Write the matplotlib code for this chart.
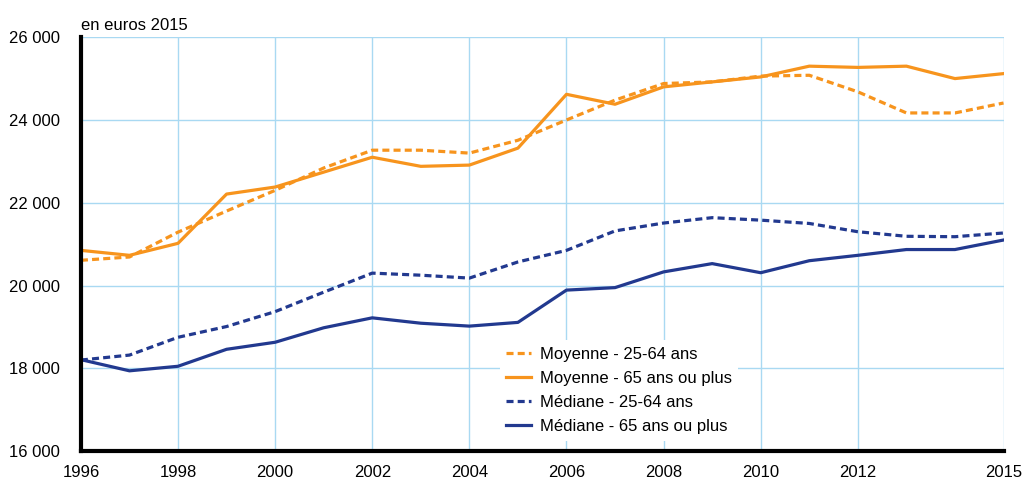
import numpy as np
import matplotlib.pyplot as plt

plt.rcParams['font.family'] = ['Liberation Sans Narrow', 'Liberation Sans', 'DejaVu Sans']

years = list(range(1996, 2016))

moy_25_64 = [20610, 20690, 21290, 21800, 22300, 22840, 23270, 23270, 23200, 23510,
             24000, 24480, 24880, 24920, 25060, 25080, 24680, 24170, 24170, 24410]
moy_65 = [20850, 20730, 21020, 22210, 22380, 22740, 23100, 22880, 22910, 23320,
          24620, 24380, 24800, 24920, 25040, 25300, 25270, 25300, 25000, 25120]
med_25_64 = [18200, 18320, 18750, 19010, 19370, 19840, 20300, 20250, 20180, 20570,
             20850, 21320, 21510, 21640, 21580, 21500, 21300, 21190, 21180, 21270]
med_65 = [18210, 17940, 18050, 18460, 18630, 18980, 19220, 19090, 19020, 19110,
          19890, 19950, 20330, 20530, 20310, 20600, 20730, 20870, 20870, 21100]

xticks = [1996, 1998, 2000, 2002, 2004, 2006, 2008, 2010, 2012, 2015]
yticks = [16000, 18000, 20000, 22000, 24000, 26000]

orange = '#F7941D'
navy = '#22398F'
grid = '#A9D9F2'

fig, ax = plt.subplots(figsize=(10.24, 4.83), dpi=100)
fig.subplots_adjust(left=0.079, right=0.980, top=0.923, bottom=0.066)

ax.plot(years, moy_25_64, color=orange, lw=2.3, dashes=(2.2, 1.3), label='Moyenne - 25-64 ans')
ax.plot(years, moy_65, color=orange, lw=2.3, label='Moyenne - 65 ans ou plus')
ax.plot(years, med_25_64, color=navy, lw=2.3, dashes=(2.2, 1.3), label='Médiane - 25-64 ans')
ax.plot(years, med_65, color=navy, lw=2.3, label='Médiane - 65 ans ou plus')

ax.set_xlim(1996, 2015)
ax.set_ylim(16000, 26000)
ax.set_xticks(xticks)
ax.set_yticks(yticks)
ax.set_yticklabels([f'{v:,}'.replace(',', ' ') for v in yticks])
ax.grid(True, color=grid, lw=1)
ax.set_axisbelow(True)
ax.tick_params(length=0, labelsize=12)
ax.tick_params(axis='y', pad=15)
ax.tick_params(axis='x', pad=10)

for s in ['top', 'right']:
    ax.spines[s].set_visible(False)
ax.spines['left'].set_linewidth(3)
ax.spines['bottom'].set_linewidth(3)

ax.text(0, 1.01, 'en euros 2015', transform=ax.transAxes, fontsize=12, va='bottom')

leg = ax.legend(loc='lower left', bbox_to_anchor=(0.445, 0.005), frameon=True,
                fontsize=12, handlelength=1.5, labelspacing=0.55, borderpad=0.4,
                handletextpad=0.5)
leg.get_frame().set_edgecolor('none')
leg.get_frame().set_facecolor('white')
leg.get_frame().set_alpha(1)

plt.savefig('out.png')
